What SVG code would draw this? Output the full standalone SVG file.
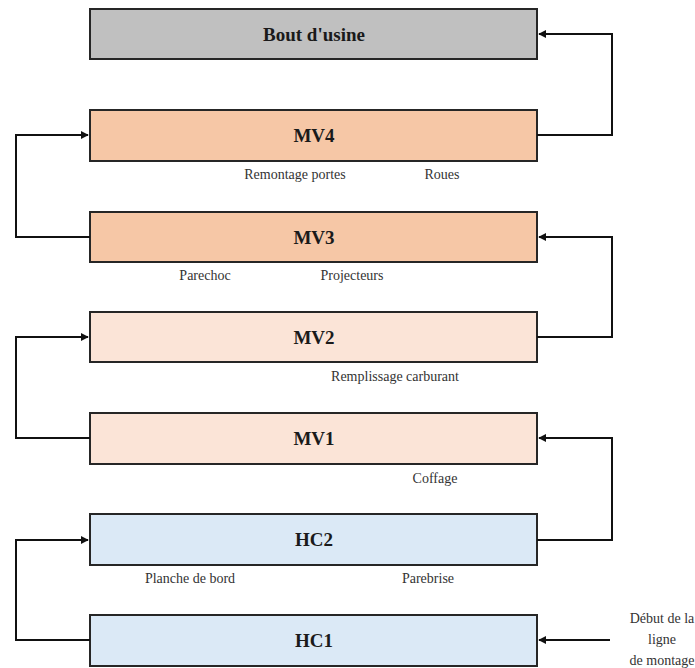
<svg xmlns="http://www.w3.org/2000/svg" width="695" height="668" viewBox="0 0 695 668">
<style>
.box{stroke:#262626;stroke-width:2}
.t{font-family:'Liberation Serif','Times New Roman','DejaVu Serif',serif;font-weight:bold;font-size:19px;fill:#1a1a1a;text-anchor:middle}
.l{font-family:'Liberation Serif','Times New Roman','DejaVu Serif',serif;font-size:14px;fill:#333;text-anchor:middle}
.c{fill:none;stroke:#111;stroke-width:2}
</style>
<defs>
<marker id="a" viewBox="0 0 10 10" refX="9" refY="5" markerWidth="4" markerHeight="4" orient="auto"><path d="M0,0L10,5L0,10z" fill="#111"/></marker>
</defs>
<rect width="695" height="668" fill="#fff"/>
<g id="bout"><rect class="box" x="90" y="9" width="447" height="50" fill="#c0c0c0"/><text class="t" x="314" y="41">Bout d'usine</text></g>
<g id="mv4"><rect class="box" x="90" y="110" width="447" height="51" fill="#f6c7a6"/><text class="t" x="314" y="142">MV4</text></g>
<g id="mv3"><rect class="box" x="90" y="212" width="447" height="50" fill="#f6c7a6"/><text class="t" x="314" y="244">MV3</text></g>
<g id="mv2"><rect class="box" x="90" y="312" width="447" height="50" fill="#fbe4d7"/><text class="t" x="314" y="344">MV2</text></g>
<g id="mv1"><rect class="box" x="90" y="413" width="447" height="51" fill="#fbe4d7"/><text class="t" x="314" y="445">MV1</text></g>
<g id="hc2"><rect class="box" x="90" y="514" width="447" height="51" fill="#dbe9f6"/><text class="t" x="314" y="546">HC2</text></g>
<g id="hc1"><rect class="box" x="90" y="615" width="447" height="51" fill="#dbe9f6"/><text class="t" x="314" y="647">HC1</text></g>
<g id="labels">
<text class="l" x="295" y="179">Remontage portes</text>
<text class="l" x="442" y="179">Roues</text>
<text class="l" x="205" y="280">Parechoc</text>
<text class="l" x="352" y="280">Projecteurs</text>
<text class="l" x="395" y="381">Remplissage carburant</text>
<text class="l" x="435" y="483">Coffage</text>
<text class="l" x="190" y="583">Planche de bord</text>
<text class="l" x="428" y="583">Parebrise</text>
<text class="l" x="662" y="623">Début de la</text>
<text class="l" x="662" y="644">ligne</text>
<text class="l" x="662" y="665">de montage</text>
</g>
<g id="connectors">
<path class="c" d="M90,640H16V540H88" marker-end="url(#a)"/>
<path class="c" d="M537,540H612V438H539" marker-end="url(#a)"/>
<path class="c" d="M90,438H16V337H88" marker-end="url(#a)"/>
<path class="c" d="M537,337H612V237H539" marker-end="url(#a)"/>
<path class="c" d="M90,237H16V135H88" marker-end="url(#a)"/>
<path class="c" d="M537,135H612V34H539" marker-end="url(#a)"/>
<path class="c" d="M610,640H539" marker-end="url(#a)"/>
</g>
</svg>
